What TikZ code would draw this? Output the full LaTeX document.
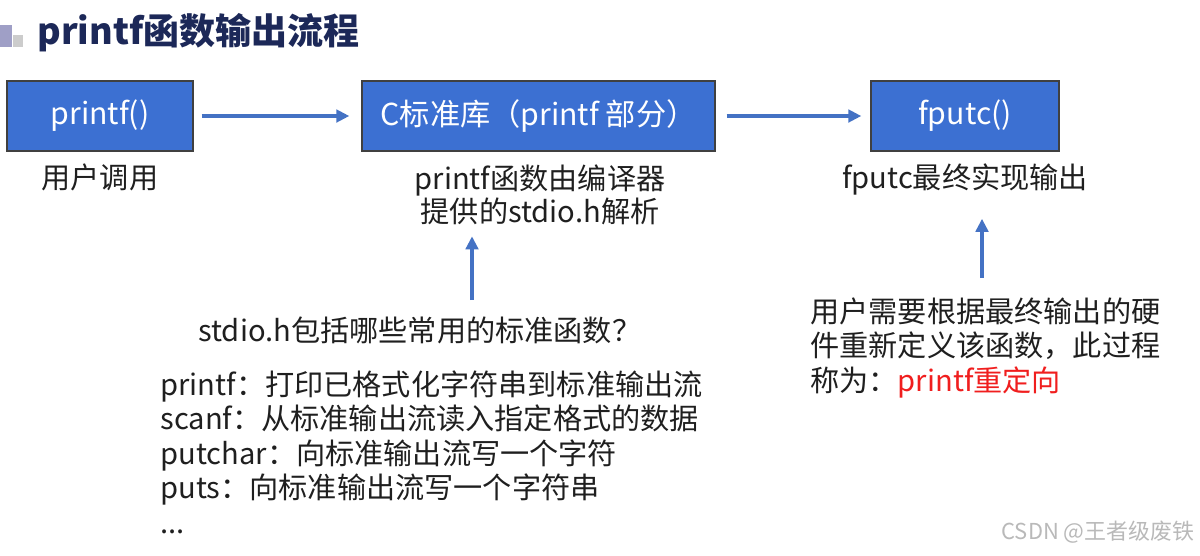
\documentclass[tikz,border=0pt]{standalone}
\usepackage{fontspec}
\setmainfont{Noto Sans CJK SC}
\usepackage{xcolor}
\usetikzlibrary{positioning, calc, arrows.meta}
\definecolor{boxblue}{RGB}{60, 112, 210}
\definecolor{arrowblue}{RGB}{68, 114, 196}
\definecolor{titlenavy}{RGB}{28, 40, 88}
\definecolor{redirred}{RGB}{240, 30, 30}

\begin{document}
\begin{tikzpicture}[x=0.02cm, y=-0.02cm,
		box/.style={draw=black!75, line width=0.8pt, fill=boxblue, text=white, minimum height=1.4cm, inner sep=0pt, font=\fontsize{17.2}{20}\selectfont},
		arrow/.style={-{Triangle[length=2.6mm, width=2.5mm]}, arrowblue, line width=1.8pt},
		lbl/.style={inner sep=0pt, text=black!88, align=center, font=\fontsize{16.6}{18.7}\selectfont}
	]
	\useasboundingbox (0,0) rectangle (1200,555);

	% Title
	\fill[gray!75!blue!60] (0,25) rectangle (12,47);
	\fill[gray!40] (13,35) rectangle (23,47);
	\node[anchor=west, inner sep=0pt, text=titlenavy, font=\fontsize{20.5}{24}\selectfont\bfseries] (title) at (37,33) {printf函数输出流程};

	% Nodes
	\node[box, minimum width=3.72cm] (printf) at (100,116) {printf()};

	\node[box, minimum width=7.06cm] (clib) at (538.5,116) {C标准库（printf 部分）};

	\node[box, minimum width=3.76cm] (fputc) at (965,116) {fputc()};

	% Labels
	\node[lbl, below=0.24cm of printf] (userlbl) {用户调用};
	\node[lbl, below=0.26cm of clib, xshift=0.03cm] (clblbl) {printf函数由编译器\\提供的stdio.h解析};
	\node[lbl, below=0.24cm of fputc] (fputclbl) {fputc最终实现输出};

	\node[lbl, anchor=west] (question) at (198,330) {stdio.h包括哪些常用的标准函数？};
	\node[lbl, anchor=west, align=left, font=\fontsize{16.6}{19.6}\selectfont] (funcs) at (160,452) {printf：打印已格式化字符串到标准输出流\\scanf：从标准输出流读入指定格式的数据\\putchar：向标准输出流写一个字符\\puts：向标准输出流写一个字符串\\...};

	\node[lbl, anchor=west, align=left, font=\fontsize{16.6}{19.6}\selectfont] (note) at (810,348) {用户需要根据最终输出的硬\\件重新定义该函数，此过程\\称为：\textcolor{redirred}{printf重定向}};

	\node[inner sep=0pt, text=gray!55, font=\fontsize{12.5}{15}\selectfont] (mark) at (1098,532) {CSDN @王者级废铁};

	% Arrows
	\draw[arrow, shorten <=0.16cm, shorten >=0.24cm] (printf) -- (clib);
	\draw[arrow, shorten <=0.22cm, shorten >=0.18cm] (clib) -- (fputc);

	\coordinate (up1) at (472,300);
	\coordinate (up2) at (982,278);
	\draw[arrow, shorten >=0.22cm] (up1) -- (up1 |- clblbl.south);
	\draw[arrow, shorten >=0.46cm] (up2) -- (up2 |- fputclbl.south);

\end{tikzpicture}
\end{document}
